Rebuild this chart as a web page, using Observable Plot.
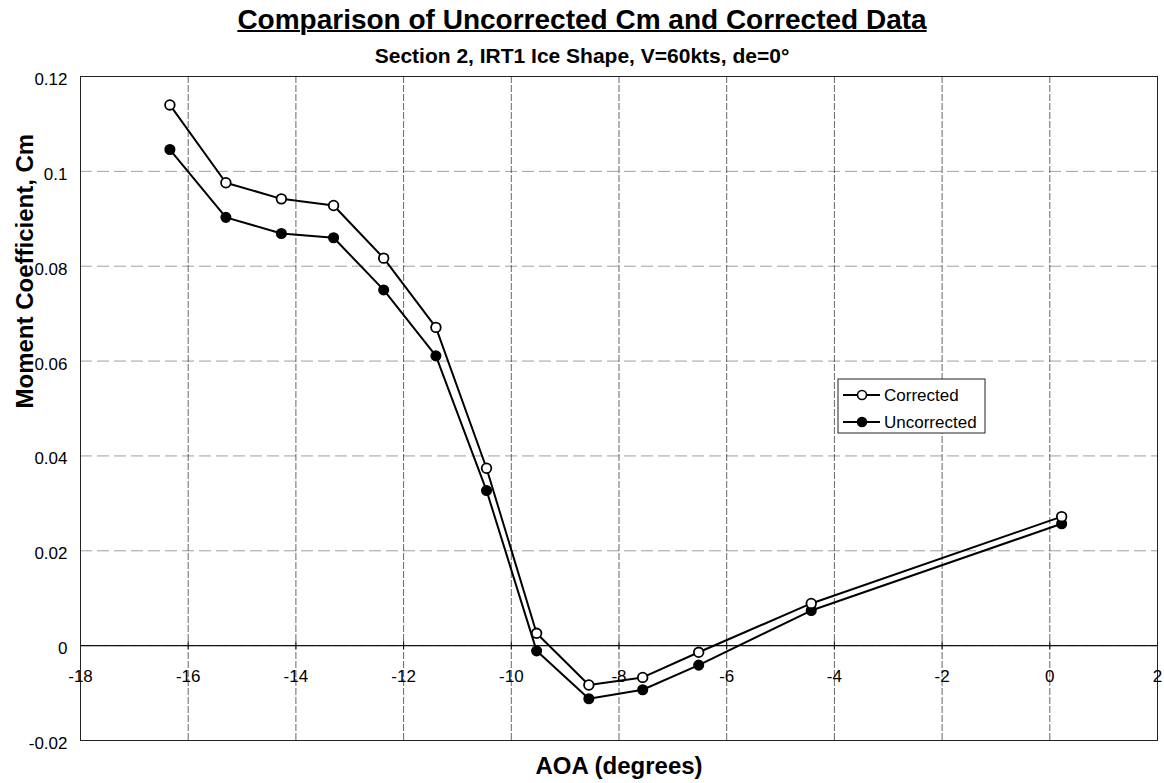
<!DOCTYPE html>
<html>
<head>
<meta charset="utf-8">
<script src="https://cdn.jsdelivr.net/npm/d3@7"></script>
<script src="https://cdn.jsdelivr.net/npm/@observablehq/plot@0.6"></script>
<style>
  body { margin: 0; background: #fff; font-family: "Liberation Sans", Arial, Helvetica, sans-serif; color: #000; }
  #chart { width: 1164px; }
  .title {
    box-sizing: border-box; height: 42px; padding-top: 2px;
    font-size: 28px; line-height: 36px; font-weight: bold;
    text-align: center; text-decoration: underline; text-decoration-thickness: 2px;
  }
  .subtitle {
    height: 28px; font-size: 21px; line-height: 28px; font-weight: bold; text-align: center;
  }
  svg { display: block; }
</style>
</head>
<body>
<div id="chart">
  <div class="title">Comparison of Uncorrected Cm and Corrected Data</div>
  <div class="subtitle">Section 2, IRT1 Ice Shape, V=60kts, de=0°</div>
</div>
<script>
// Angle of attack (degrees) and moment coefficient for both data sets
const aoa         = [-16.34, -15.30, -14.27, -13.30, -12.37, -11.40, -10.46, -9.53, -8.56, -7.56, -6.52, -4.43, 0.22];
const corrected   = [0.1140, 0.0976, 0.0942, 0.0928, 0.0817, 0.0671, 0.0374, 0.0026, -0.0083, -0.0067, -0.0014, 0.0089, 0.0272];
const uncorrected = [0.1046, 0.0903, 0.0869, 0.0860, 0.0750, 0.0611, 0.0327, -0.0011, -0.0112, -0.0093, -0.0041, 0.0074, 0.0257];

// Axis ticks and their printed labels
const xTicks      = [-18, -16, -14, -12, -10, -8, -6, -4, -2, 0, 2];
const xTickLabels = ["-18", "-16", "-14", "-12", "-10", "-8", "-6", "-4", "-2", "0", "2"];
const yTicks      = [-0.02, 0, 0.02, 0.04, 0.06, 0.08, 0.1, 0.12];
const yTickLabels = ["-0.02", "0", "0.02", "0.04", "0.06", "0.08", "0.1", "0.12"];

const seriesNames = ["Corrected", "Uncorrected"];

const rows = aoa.map((a, i) => ({aoa: a, corrected: corrected[i], uncorrected: uncorrected[i]}));
const xLabel = d => xTickLabels[xTicks.indexOf(d)];
const yLabel = d => yTickLabels[yTicks.indexOf(d)];

const font = '"Liberation Sans", Arial, Helvetica, sans-serif';

const plot = Plot.plot({
  width: 1164,
  height: 713,
  marginTop: 6,
  marginRight: 7,
  marginBottom: 43,
  marginLeft: 80,
  x: {domain: [-18, 2], axis: null},
  y: {domain: [-0.02, 0.12]},
  style: {fontFamily: font, fontSize: "17px", background: "#fff", color: "#000"},
  marks: [
    // grid
    Plot.ruleY(yTicks, {stroke: "#777", strokeOpacity: 0.7, strokeDasharray: "12,5"}),
    Plot.ruleX(xTicks, {stroke: "#333", strokeOpacity: 0.75, strokeDasharray: "7,2"}),
    // zero axis with small crossing ticks
    Plot.ruleY([0], {stroke: "#111", strokeWidth: 1.3}),
    Plot.ruleX(xTicks, {y1: d => 0, y2: d => 0, insetTop: -4, insetBottom: -4, stroke: "#111"}),
    Plot.frame({stroke: "#222"}),
    // y tick labels
    Plot.axisY(yTicks, {tickSize: 0, tickPadding: 13, tickFormat: yLabel, label: null, fontSize: 17, dy: 3}),
    // x tick labels sit beneath the zero line
    Plot.text(xTicks, {x: d => d, y: d => 0, text: xLabel, dy: 31, fontSize: 17}),
    // axis titles
    Plot.text(["AOA (degrees)"], {text: d => d, frameAnchor: "bottom", lineAnchor: "bottom", dy: 33, fontSize: 24, fontWeight: "bold"}),
    Plot.text(["Moment Coefficient, Cm"], {text: d => d, frameAnchor: "left", rotate: -90, dx: -55, fontSize: 24, fontWeight: "bold"}),
    // series
    Plot.line(rows, {x: "aoa", y: "uncorrected", stroke: "#000", strokeWidth: 2}),
    Plot.line(rows, {x: "aoa", y: "corrected", stroke: "#000", strokeWidth: 2}),
    Plot.dot(rows, {x: "aoa", y: "uncorrected", r: 4.8, fill: "#000", stroke: "#000", strokeWidth: 1.5}),
    Plot.dot(rows, {x: "aoa", y: "corrected", r: 4.8, fill: "#fff", stroke: "#000", strokeWidth: 1.8})
  ]
});

// Legend box inside the plot area, upper right of the minimum
const svg = d3.select(plot);
const lg = svg.append("g").attr("transform", "translate(838,309)");
lg.append("rect").attr("width", 147).attr("height", 54)
  .attr("fill", "#fff").attr("stroke", "#222").attr("stroke-width", 1);
seriesNames.forEach((name, i) => {
  const y = 16 + i * 27;
  lg.append("line").attr("x1", 5).attr("x2", 42).attr("y1", y).attr("y2", y)
    .attr("stroke", "#000").attr("stroke-width", 2);
  lg.append("circle").attr("cx", 24).attr("cy", y).attr("r", 4.5)
    .attr("fill", i === 0 ? "#fff" : "#000").attr("stroke", "#000").attr("stroke-width", 1.6);
  lg.append("text").attr("x", 46).attr("y", y).attr("dy", "0.35em")
    .attr("text-anchor", "start")
    .attr("font-family", font).attr("font-size", 17).text(name);
});

document.getElementById("chart").appendChild(plot);
</script>
</body>
</html>
